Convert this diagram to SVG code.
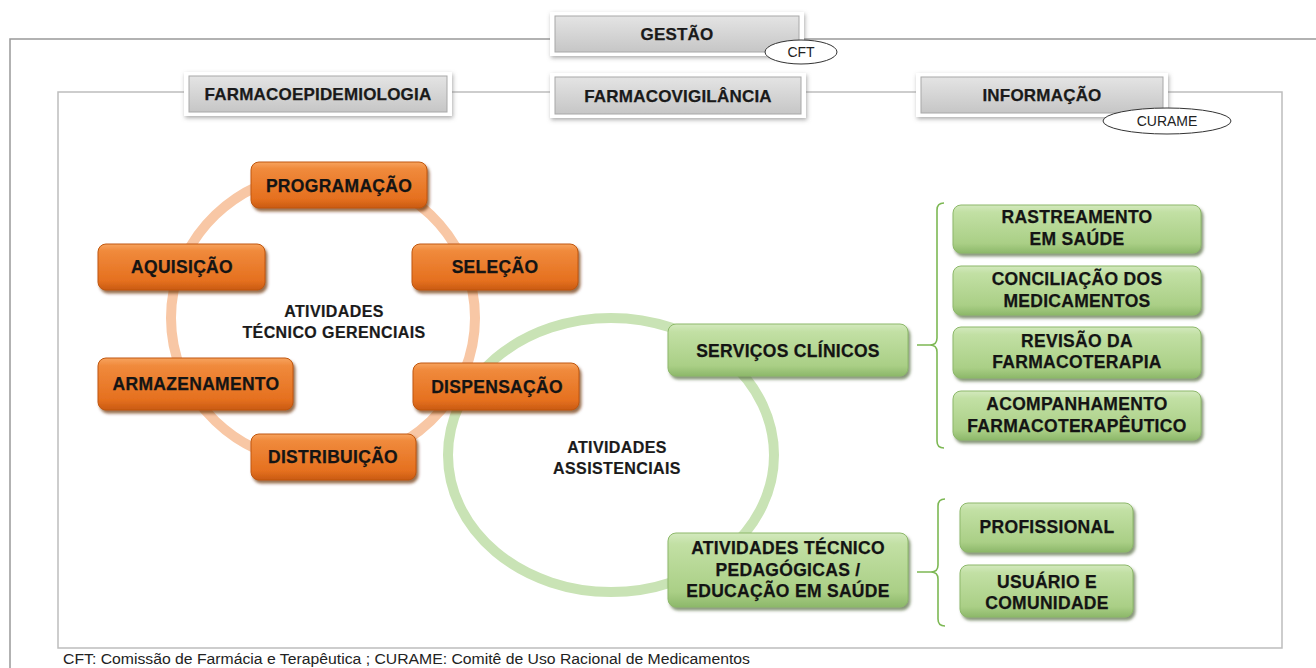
<svg xmlns="http://www.w3.org/2000/svg" width="1316" height="668" viewBox="0 0 1316 668">
<defs>
<linearGradient id="gOr" x1="0" y1="0" x2="0" y2="1">
<stop offset="0" stop-color="#F7A35E"/><stop offset="0.15" stop-color="#F08A3C"/><stop offset="0.8" stop-color="#E5701F"/><stop offset="1" stop-color="#C95A12"/>
</linearGradient>
<linearGradient id="gGr" x1="0" y1="0" x2="0" y2="1">
<stop offset="0" stop-color="#D3E9BE"/><stop offset="0.15" stop-color="#C2E0A4"/><stop offset="0.8" stop-color="#AACF86"/><stop offset="1" stop-color="#8DB86A"/>
</linearGradient>
<linearGradient id="gGy" x1="0" y1="0" x2="0" y2="1">
<stop offset="0" stop-color="#E4E4E4"/><stop offset="1" stop-color="#C6C6C6"/>
</linearGradient>
<filter id="shOr" x="-10%" y="-20%" width="125%" height="150%"><feDropShadow dx="2" dy="3" stdDeviation="1.6" flood-color="#6B2E05" flood-opacity="0.7"/></filter>
<filter id="shGr" x="-10%" y="-20%" width="125%" height="150%"><feDropShadow dx="2" dy="3" stdDeviation="1.6" flood-color="#556B40" flood-opacity="0.7"/></filter>
<filter id="shGy" x="-10%" y="-30%" width="125%" height="170%"><feDropShadow dx="1" dy="2" stdDeviation="2" flood-color="#777" flood-opacity="0.6"/></filter>
<style>
.t{font-family:"Liberation Sans",Arial,sans-serif;font-weight:bold;font-size:17.5px;letter-spacing:0.3px;fill:#141414;stroke:#141414;stroke-width:0.25px;text-anchor:middle}
.tg{font-family:"Liberation Sans",Arial,sans-serif;font-weight:bold;font-size:17px;letter-spacing:0.2px;fill:#1a1a1a;stroke:#1a1a1a;stroke-width:0.25px;text-anchor:middle}
.tc{font-family:"Liberation Sans",Arial,sans-serif;font-weight:bold;font-size:16px;letter-spacing:0.4px;fill:#1a1a1a;stroke:#1a1a1a;stroke-width:0.2px;text-anchor:middle}
.tn{font-family:"Liberation Sans",Arial,sans-serif;font-size:14px;fill:#222;text-anchor:middle}
.or{fill:url(#gOr);stroke:#C0560F;stroke-width:1;filter:url(#shOr)}
.gr{fill:url(#gGr);stroke:#8DB86A;stroke-width:1;filter:url(#shGr)}
.gyo{fill:#fff;filter:url(#shGy)}
.gy{fill:url(#gGy);stroke:#A8A8A8;stroke-width:1}
.el{fill:#fff;stroke:#333;stroke-width:1}
.br{fill:none;stroke:#7DB854;stroke-width:1.6}
</style>
</defs>
<rect width="1316" height="668" fill="#fff"/>
<!-- frames -->
<path d="M10,668 V39 H1316" fill="none" stroke="#999" stroke-width="1.5"/>
<rect x="58" y="92" width="1224" height="556" fill="none" stroke="#BDBDBD" stroke-width="1.5"/>
<!-- circles -->
<ellipse cx="611" cy="455" rx="163" ry="137" fill="none" stroke="#C9E3B5" stroke-width="10"/>
<ellipse cx="323" cy="318" rx="152" ry="146" fill="none" stroke="#F8C7A5" stroke-width="10"/>
<!-- gray header boxes -->
<g id="gestao">
<rect class="gyo" x="550" y="12" width="254" height="44"/>
<rect class="gy" x="555" y="16" width="244" height="36"/>
<text class="tg" x="677" y="40">GESTÃO</text>
</g>
<g id="cft">
<ellipse class="el" cx="801" cy="52" rx="36" ry="12"/>
<text class="tn" x="801" y="57">CFT</text>
</g>
<g id="farmacoepidemiologia">
<rect class="gyo" x="184" y="72" width="268" height="44"/>
<rect class="gy" x="189" y="76" width="258" height="36"/>
<text class="tg" x="318" y="100">FARMACOEPIDEMIOLOGIA</text>
</g>
<g id="farmacovigilancia">
<rect class="gyo" x="550" y="73" width="256" height="45"/>
<rect class="gy" x="555" y="77" width="246" height="37"/>
<text class="tg" x="678" y="102">FARMACOVIGILÂNCIA</text>
</g>
<g id="informacao">
<rect class="gyo" x="916" y="73" width="252" height="44"/>
<rect class="gy" x="921" y="77" width="242" height="36"/>
<text class="tg" x="1042" y="101">INFORMAÇÃO</text>
</g>
<g id="curame">
<ellipse class="el" cx="1167" cy="121" rx="64" ry="13"/>
<text class="tn" x="1167" y="126">CURAME</text>
</g>
<!-- orange nodes -->
<g id="programacao">
<rect class="or" x="251" y="162" width="176" height="46" rx="8"/>
<text class="t" x="339" y="192">PROGRAMAÇÃO</text>
</g>
<g id="aquisicao">
<rect class="or" x="98" y="244" width="167" height="46" rx="8"/>
<text class="t" x="182" y="273">AQUISIÇÃO</text>
</g>
<g id="selecao">
<rect class="or" x="412" y="244" width="166" height="46" rx="8"/>
<text class="t" x="495" y="273">SELEÇÃO</text>
</g>
<g id="armazenamento">
<rect class="or" x="98" y="358" width="195" height="52" rx="8"/>
<text class="t" x="196" y="390">ARMAZENAMENTO</text>
</g>
<g id="dispensacao">
<rect class="or" x="413" y="363" width="166" height="47" rx="8"/>
<text class="t" x="497" y="393">DISPENSAÇÃO</text>
</g>
<g id="distribuicao">
<rect class="or" x="251" y="434" width="165" height="46" rx="8"/>
<text class="t" x="333" y="463">DISTRIBUIÇÃO</text>
</g>
<g id="tecnico-gerenciais">
<text class="tc" x="334" y="317">ATIVIDADES</text>
<text class="tc" x="334" y="338">TÉCNICO GERENCIAIS</text>
</g>
<g id="assistenciais">
<text class="tc" x="617" y="453">ATIVIDADES</text>
<text class="tc" x="617" y="474">ASSISTENCIAIS</text>
</g>
<!-- green nodes -->
<g id="servicos-clinicos">
<rect class="gr" x="668" y="324" width="240" height="52" rx="8"/>
<text class="t" x="788" y="357">SERVIÇOS CLÍNICOS</text>
</g>
<g id="atividades-pedagogicas">
<rect class="gr" x="668" y="533" width="240" height="74" rx="8"/>
<text class="t" x="788" y="554">ATIVIDADES TÉCNICO</text>
<text class="t" x="788" y="576">PEDAGÓGICAS /</text>
<text class="t" x="788" y="597">EDUCAÇÃO EM SAÚDE</text>
</g>
<g id="rastreamento">
<rect class="gr" x="953" y="205" width="248" height="48" rx="8"/>
<text class="t" x="1077" y="223">RASTREAMENTO</text>
<text class="t" x="1077" y="245">EM SAÚDE</text>
</g>
<g id="conciliacao">
<rect class="gr" x="953" y="266" width="248" height="49" rx="8"/>
<text class="t" x="1077" y="285">CONCILIAÇÃO DOS</text>
<text class="t" x="1077" y="307">MEDICAMENTOS</text>
</g>
<g id="revisao">
<rect class="gr" x="953" y="327" width="248" height="51" rx="8"/>
<text class="t" x="1077" y="347">REVISÃO DA</text>
<text class="t" x="1077" y="368">FARMACOTERAPIA</text>
</g>
<g id="acompanhamento">
<rect class="gr" x="953" y="391" width="248" height="49" rx="8"/>
<text class="t" x="1077" y="410">ACOMPANHAMENTO</text>
<text class="t" x="1077" y="432">FARMACOTERAPÊUTICO</text>
</g>
<g id="profissional">
<rect class="gr" x="960" y="503" width="173" height="49" rx="8"/>
<text class="t" x="1047" y="533">PROFISSIONAL</text>
</g>
<g id="usuario">
<rect class="gr" x="960" y="565" width="173" height="52" rx="8"/>
<text class="t" x="1047" y="588">USUÁRIO E</text>
<text class="t" x="1047" y="609">COMUNIDADE</text>
</g>
<!-- connectors -->
<g id="connectors">
<path class="br" d="M944,203 Q937,203 937,210 V338 Q937,345 930,345 H917 M930,345 Q937,345 937,352 V441 Q937,448 944,448"/>
<path class="br" d="M945,499 Q938,499 938,506 V565 Q938,572 931,572 H917 M931,572 Q938,572 938,579 V619 Q938,626 945,626"/>
</g>
<text x="63" y="664" font-family="'Liberation Sans',Arial,sans-serif" font-size="15.5px" fill="#222" textLength="687" lengthAdjust="spacingAndGlyphs">CFT: Comissão de Farmácia e Terapêutica ; CURAME: Comitê de Uso Racional de Medicamentos</text>
</svg>
